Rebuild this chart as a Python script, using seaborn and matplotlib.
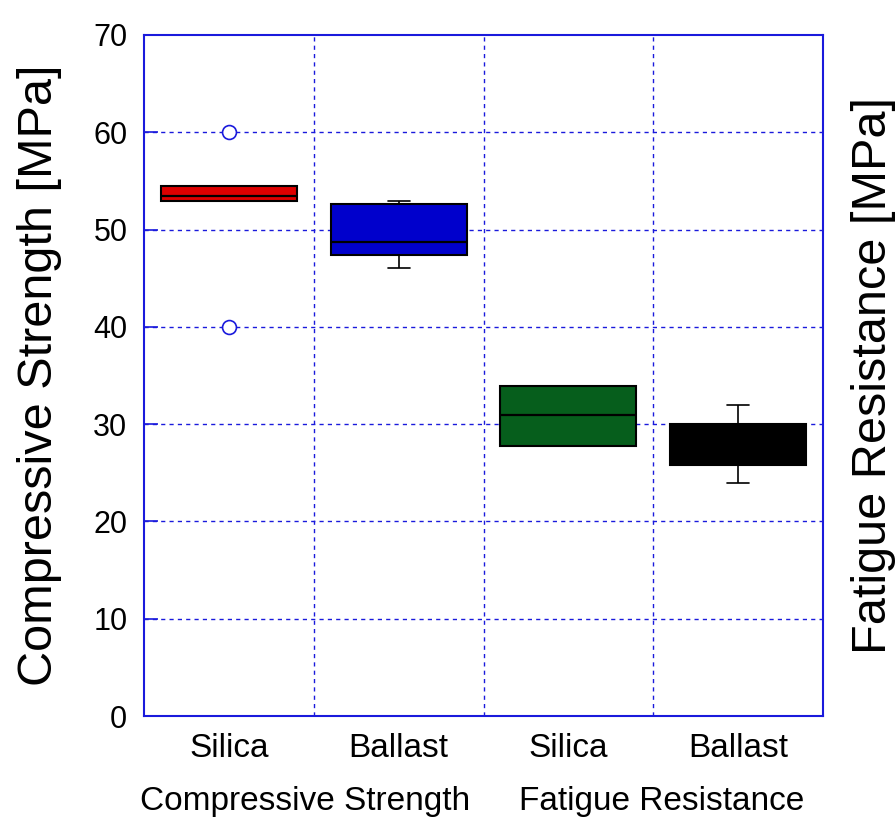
import matplotlib
matplotlib.use("Agg")
import matplotlib.pyplot as plt
import seaborn as sns
import pandas as pd
from matplotlib.ticker import FixedLocator

sns.set_style("white")
plt.rcParams['font.family'] = ['Liberation Sans', 'DejaVu Sans']
plt.rcParams['text.color'] = 'black'
plt.rcParams['axes.labelcolor'] = 'black'
plt.rcParams['xtick.color'] = 'black'
plt.rcParams['ytick.color'] = 'black'

# ---- data ----
groups = ["CS Silica", "CS Ballast", "FR Silica", "FR Ballast"]
tick_labels = ["Silica", "Ballast", "Silica", "Ballast"]
group_titles = ["Compressive Strength", "Fatigue Resistance"]
cs_silica = [40.0, 52.9, 52.9, 53.4, 54.5, 54.5, 60.0]
cs_ballast = [46.0, 47.4, 47.4, 48.7, 52.6, 52.6, 52.9]
fr_silica = [27.8, 27.8, 27.8, 30.9, 33.9, 33.9, 33.9]
fr_ballast = [24.0, 25.8, 25.8, 28.0, 30.0, 30.0, 32.0]
box_colors = ["#dd0000", "#0000cc", "#065e1c", "#000000"]
y_ticks = [0, 10, 20, 30, 40, 50, 60, 70]

rows = []
for g, vals in zip(groups, [cs_silica, cs_ballast, fr_silica, fr_ballast]):
    for v in vals:
        rows.append({"group": g, "value": v})
df = pd.DataFrame(rows)

fig = plt.figure(figsize=(8.96, 8.21), dpi=100)
ax = fig.add_axes([144/896, 1-716/821, (823-144)/896, (716-35)/821])

blue = "#1a1adc"
sns.boxplot(data=df, x="group", y="value", hue="group", order=groups,
            hue_order=groups, palette=box_colors, legend=False, width=0.8,
            whis=1.5, ax=ax, linewidth=1.5, linecolor="black",
            saturation=1,
            capwidths=0.13,
            flierprops=dict(marker="o", markerfacecolor="white",
                            markeredgecolor=blue, markersize=10,
                            markeredgewidth=1.2),
            medianprops=dict(color="black", linewidth=1.6),
            whiskerprops=dict(color="black", linewidth=1.2),
            capprops=dict(color="black", linewidth=1.2))

ax.set_xlim(-0.5, 3.5)
ax.set_ylim(0, 70)
ax.set_yticks(y_ticks)
ax.set_yticklabels([str(t) for t in y_ticks], fontsize=22)
ax.set_xticks(range(4))
ax.set_xticklabels(tick_labels, fontsize=24)
ax.xaxis.set_minor_locator(FixedLocator([0.5, 1.5, 2.5]))
ax.tick_params(axis="x", which="both", length=0, pad=12)
ax.tick_params(axis="y", which="major", direction="in", length=10,
               color=blue, width=1.2, pad=12, right=True, labelright=False)

ax.set_axisbelow(True)
for yv in y_ticks[1:-1]:
    ax.axhline(yv, color=blue, linestyle=(0, (3, 3)), linewidth=1.0, zorder=0)
ax.grid(axis="x", which="minor", color=blue, linestyle=(0, (3, 3)), linewidth=1.0)
ax.grid(axis="x", which="major", visible=False)

for s in ax.spines.values():
    s.set_color(blue)
    s.set_linewidth(1.5)
    s.set_visible(True)

ax.set_xlabel("")
ax.set_ylabel("Compressive Strength [MPa]", fontsize=35)
ax.yaxis.set_label_coords(-0.121, 0.5)

ax2 = ax.twinx()
ax2.set_ylim(0, 70)
ax2.set_yticks([])
ax2.set_ylabel("Fatigue Resistance [MPa]", fontsize=35)
ax2.yaxis.set_label_coords(1.041, 0.5)
for s in ax2.spines.values():
    s.set_visible(False)

ax.text(0.237, -0.125, group_titles[0], transform=ax.transAxes,
        ha="center", va="center", fontsize=24)
ax.text(0.763, -0.125, group_titles[1], transform=ax.transAxes,
        ha="center", va="center", fontsize=24)

fig.savefig("out.png", dpi=100, facecolor="white")
